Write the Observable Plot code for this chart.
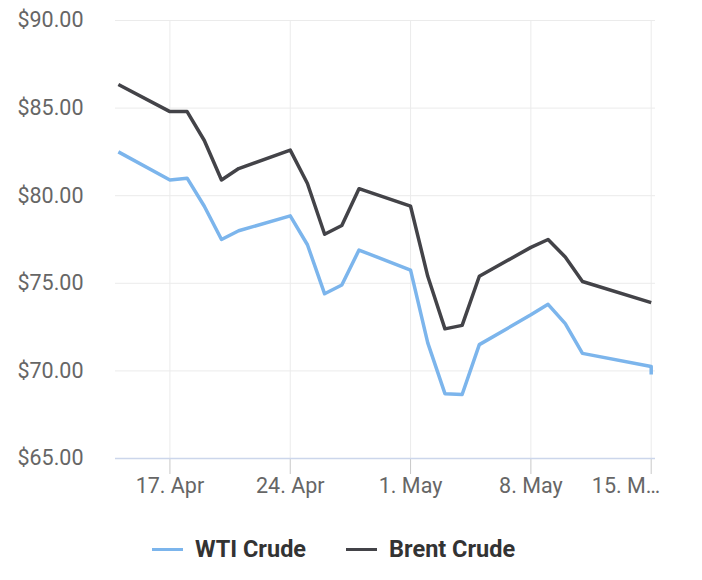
<!DOCTYPE html>
<html>
<head>
<meta charset="utf-8">
<script src="https://cdn.jsdelivr.net/npm/d3@7"></script>
<script src="https://cdn.jsdelivr.net/npm/@observablehq/plot@0.6"></script>
<style>
  html, body { margin: 0; padding: 0; background: #fff; }
  #chart { width: 702px; }
  .legend { display: flex; align-items: center; height: 58px; padding-left: 152px;
            font-family: Roboto, sans-serif; font-size: 23.5px; font-weight: bold; color: #333; }
  .item { display: flex; align-items: center; margin-right: 40px; }
  .sw { width: 31px; height: 3px; margin-right: 12px; }
</style>
</head>
<body>
<div id="chart"></div>
<script>
// ---- data ----
const dates = ["2023-04-14","2023-04-17","2023-04-18","2023-04-19","2023-04-20","2023-04-21",
  "2023-04-24","2023-04-25","2023-04-26","2023-04-27","2023-04-28",
  "2023-05-01","2023-05-02","2023-05-03","2023-05-04","2023-05-05",
  "2023-05-08","2023-05-09","2023-05-10","2023-05-11","2023-05-15"];
const wti   = [82.5, 80.9, 81.0, 79.4, 77.5, 78.0, 78.85, 77.2, 74.4, 74.9, 76.9,
               75.75, 71.6, 68.7, 68.65, 71.5, 73.2, 73.8, 72.7, 71.0, 70.25];
const brent = [86.35, 84.8, 84.8, 83.15, 80.9, 81.55, 82.6, 80.7, 77.8, 78.3, 80.4,
               79.4, 75.4, 72.4, 72.6, 75.4, 77.05, 77.5, 76.5, 75.1, 73.9];
const wtiLast = {date: "2023-05-15", value: 69.8};
const seriesNames = ["WTI Crude", "Brent Crude"];
const seriesColors = ["#7cb5ec", "#434348"];
const yTicks = [65, 70, 75, 80, 85, 90];
const xTickDates = ["2023-04-17", "2023-04-24", "2023-05-01", "2023-05-08", "2023-05-15"];
const xTickLabels = ["17. Apr", "24. Apr", "1. May", "8. May", "15. M…"];

// ---- build table ----
const rows = [];
dates.forEach((d, i) => rows.push({series: seriesNames[0], date: new Date(d), value: wti[i]}));
rows.push({series: seriesNames[0], date: new Date(wtiLast.date), value: wtiLast.value});
dates.forEach((d, i) => rows.push({series: seriesNames[1], date: new Date(d), value: brent[i]}));

const xTicks = xTickDates.map(d => new Date(d));
const labelOf = d => xTickLabels[xTicks.findIndex(t => +t === +d)];

const chart = Plot.plot({
  width: 702,
  height: 520,
  marginLeft: 115,
  marginRight: 47,
  marginTop: 20,
  marginBottom: 62,
  style: {fontFamily: "Roboto, sans-serif", fontSize: "21.5px", color: "#666", background: "#fff"},
  x: {type: "utc", domain: [new Date("2023-04-13T20:00Z"), new Date("2023-05-15T06:00Z")]},
  y: {domain: [65, 90]},
  color: {domain: seriesNames, range: seriesColors},
  marks: [
    Plot.gridY({ticks: yTicks, stroke: "#ebebeb", strokeOpacity: 1}),
    Plot.gridX({ticks: xTicks, stroke: "#ebebeb", strokeOpacity: 1}),
    Plot.axisY({ticks: yTicks, tickSize: 0, tickPadding: 32, label: null,
                tickFormat: d => "$" + d.toFixed(2), fill: "#666"}),
    Plot.axisX({ticks: xTicks.slice(0, 4), tickSize: 16, tickPadding: 3, label: null,
                stroke: "#c8c8c8", fill: "#666", tickFormat: labelOf}),
    Plot.axisX({ticks: xTicks.slice(4), tickSize: 16, label: null,
                stroke: "#c8c8c8", tickFormat: () => ""}),
    Plot.axisX({ticks: xTicks.slice(4), tickSize: 0, tickPadding: 19, label: null,
                fill: "#666", tickFormat: labelOf, textAnchor: "end", dx: 9}),
    Plot.ruleY([65], {stroke: "#ccd6eb", strokeWidth: 1.5}),
    Plot.line(rows, {x: "date", y: "value", z: "series", stroke: "series",
                     strokeWidth: 3.5, strokeLinejoin: "round", strokeLinecap: "butt"})
  ]
});
document.getElementById("chart").appendChild(chart);

const legend = document.createElement("div");
legend.className = "legend";
seriesNames.forEach((n, i) => {
  const it = document.createElement("div");
  it.className = "item";
  const sw = document.createElement("div");
  sw.className = "sw";
  sw.style.background = seriesColors[i];
  const tx = document.createElement("span");
  tx.textContent = n;
  it.appendChild(sw); it.appendChild(tx);
  legend.appendChild(it);
});
document.getElementById("chart").appendChild(legend);
</script>
</body>
</html>
